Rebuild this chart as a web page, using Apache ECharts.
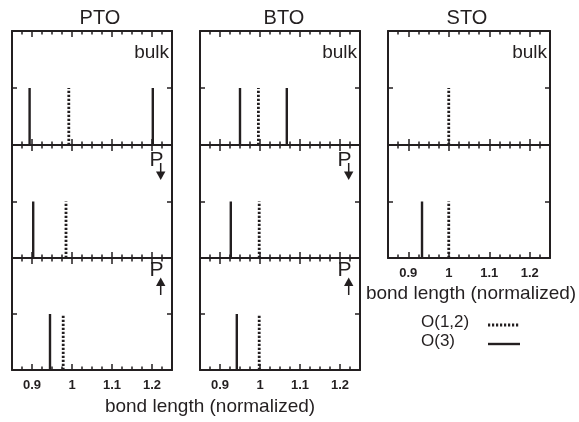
<!DOCTYPE html>
<html><head><meta charset="utf-8">
<script src="https://cdn.jsdelivr.net/npm/echarts@6/dist/echarts.min.js"></script>
<style>html,body{margin:0;padding:0;background:#fff}#c{width:579px;height:422px}</style>
</head><body><div id="c"></div><script>
// ---- data ----
const materials = ['PTO', 'BTO', 'STO'];
const tickLabels = [0.9, 1, 1.1, 1.2];
const minorTicks = [0.875, 0.925, 0.95, 0.975, 1.025, 1.05, 1.075, 1.125, 1.15, 1.175, 1.225];
const ptoO12 = [0.992, 0.985, 0.978];
const ptoO3 = [[0.894, 1.202], [0.903], [0.945]];
const btoO12 = [0.996, 0.998, 0.998];
const btoO3 = [[0.950, 1.067], [0.927], [0.942]];
const stoO12 = [1.000, 1.000];
const stoO3 = [[], [0.934]];
const peakHeight = 1;
const xName = 'bond length (normalized)';
const legendNames = ['O(1,2)', 'O(3)'];

// ---- layout ----
const INK = '#231f20';
const FONT = "'Liberation Sans', Arial, Helvetica, sans-serif";
const panelLeft = [12, 200, 388];
const panelWidth = [160, 160, 162];
const rowTop = [31, 145, 258];
const rowHeight = [114, 113, 112];
const o12Sets = [ptoO12, btoO12, stoO12];
const o3Sets = [ptoO3, btoO3, stoO3];
const titleX = [100, 284, 467];

const grid = [], xAxis = [], yAxis = [], series = [], graphic = [];
let gi = 0;
for (let m = 0; m < 3; m++) {
  const nRows = o12Sets[m].length;
  for (let r = 0; r < nRows; r++) {
    grid.push({left: panelLeft[m], top: rowTop[r], width: panelWidth[m], height: rowHeight[r], containLabel: false});
    const isBottom = (r === nRows - 1);
    const base = {
      gridIndex: gi, type: 'value', min: 0.85, max: 1.25,
      splitLine: {show: false}, axisPointer: {show: false}
    };
    const xi = xAxis.length;
    xAxis.push(Object.assign({}, base, {
      position: 'bottom',
      axisLine: {show: true, onZero: false, lineStyle: {color: INK, width: 2}},
      axisTick: {show: true, inside: true, length: 6, customValues: tickLabels, lineStyle: {color: INK, width: 1.5}},
      axisLabel: {show: isBottom, customValues: tickLabels, margin: 9, color: INK, fontFamily: FONT, fontSize: 13, fontWeight: 'bold'}
    }));
    xAxis.push(Object.assign({}, base, {
      position: 'bottom',
      axisLine: {show: false, onZero: false},
      axisTick: {show: true, inside: true, length: 3.5, customValues: minorTicks, lineStyle: {color: INK, width: 1.5}},
      axisLabel: {show: false}
    }));
    xAxis.push(Object.assign({}, base, {
      position: 'top',
      axisLine: {show: true, onZero: false, lineStyle: {color: INK, width: 2}},
      axisTick: {show: true, inside: true, length: 6, customValues: tickLabels, lineStyle: {color: INK, width: 1.5}},
      axisLabel: {show: false}
    }));
    xAxis.push(Object.assign({}, base, {
      position: 'top',
      axisLine: {show: false, onZero: false},
      axisTick: {show: true, inside: true, length: 3.5, customValues: minorTicks, lineStyle: {color: INK, width: 1.5}},
      axisLabel: {show: false}
    }));
    const yi = yAxis.length;
    ['left', 'right'].forEach(function (pos) {
      yAxis.push({
        gridIndex: gi, type: 'value', min: 0, max: 2, position: pos,
        splitLine: {show: false},
        axisLine: {show: true, onZero: false, lineStyle: {color: INK, width: 2}},
        axisTick: {show: true, inside: true, length: 5, customValues: [1], lineStyle: {color: INK, width: 1.5}},
        axisLabel: {show: false}
      });
    });
    const x12 = o12Sets[m][r];
    series.push({
      name: legendNames[0], type: 'line', xAxisIndex: xi, yAxisIndex: yi,
      data: [[x12, 0], [x12, peakHeight]], symbol: 'none', silent: true,
      lineStyle: {color: INK, width: 2.8, type: [2.2, 1.8], cap: 'butt'}
    });
    o3Sets[m][r].forEach(function (x3) {
      series.push({
        name: legendNames[1], type: 'line', xAxisIndex: xi, yAxisIndex: yi,
        data: [[x3, 0], [x3, peakHeight]], symbol: 'none', silent: true,
        lineStyle: {color: INK, width: 2.4, type: 'solid', cap: 'butt'}
      });
    });
    gi++;
  }
  graphic.push({type: 'text', style: {text: materials[m], x: titleX[m], y: 18, align: 'center', verticalAlign: 'middle', fill: INK, font: '20px ' + FONT}});
  const right = panelLeft[m] + panelWidth[m];
  graphic.push({type: 'text', style: {text: 'bulk', x: right - 3, y: rowTop[0] + 22, align: 'right', verticalAlign: 'middle', fill: INK, font: '19px ' + FONT}});
  if (nRows === 3) {
    const t1 = rowTop[1];
    graphic.push({type: 'text', style: {text: 'P', x: right - 15.5, y: t1 + 15, align: 'center', verticalAlign: 'middle', fill: INK, font: '21px ' + FONT}});
    graphic.push({type: 'line', shape: {x1: right - 11.3, y1: t1 + 18, x2: right - 11.3, y2: t1 + 28}, style: {stroke: INK, lineWidth: 1.5}});
    graphic.push({type: 'polygon', shape: {points: [[right - 16, t1 + 26.5], [right - 6.6, t1 + 26.5], [right - 11.3, t1 + 35]]}, style: {fill: INK}});
    const t2 = rowTop[2];
    graphic.push({type: 'text', style: {text: 'P', x: right - 15.5, y: t2 + 12.5, align: 'center', verticalAlign: 'middle', fill: INK, font: '21px ' + FONT}});
    graphic.push({type: 'polygon', shape: {points: [[right - 16, t2 + 28], [right - 6.6, t2 + 28], [right - 11.3, t2 + 19.5]]}, style: {fill: INK}});
    graphic.push({type: 'line', shape: {x1: right - 11.3, y1: t2 + 27, x2: right - 11.3, y2: t2 + 37}, style: {stroke: INK, lineWidth: 1.5}});
  }
}
graphic.push({type: 'text', style: {text: xName, x: 210, y: 407, align: 'center', verticalAlign: 'middle', fill: INK, font: '19px ' + FONT}});
graphic.push({type: 'text', style: {text: xName, x: 471, y: 294, align: 'center', verticalAlign: 'middle', fill: INK, font: '19px ' + FONT}});
graphic.push({type: 'text', style: {text: legendNames[0], x: 421, y: 322, align: 'left', verticalAlign: 'middle', fill: INK, font: '17px ' + FONT}});
graphic.push({type: 'line', shape: {x1: 488, y1: 325, x2: 520, y2: 325}, style: {stroke: INK, lineWidth: 2.8, lineDash: [2.2, 1.8]}});
graphic.push({type: 'text', style: {text: legendNames[1], x: 421, y: 341, align: 'left', verticalAlign: 'middle', fill: INK, font: '17px ' + FONT}});
graphic.push({type: 'line', shape: {x1: 488, y1: 344, x2: 520, y2: 344}, style: {stroke: INK, lineWidth: 2.4}});

const chart = echarts.init(document.getElementById('c'), null, {renderer: 'canvas'});
chart.setOption({animation: false, backgroundColor: '#fff', grid: grid, xAxis: xAxis, yAxis: yAxis, series: series, graphic: graphic});
</script></body></html>
